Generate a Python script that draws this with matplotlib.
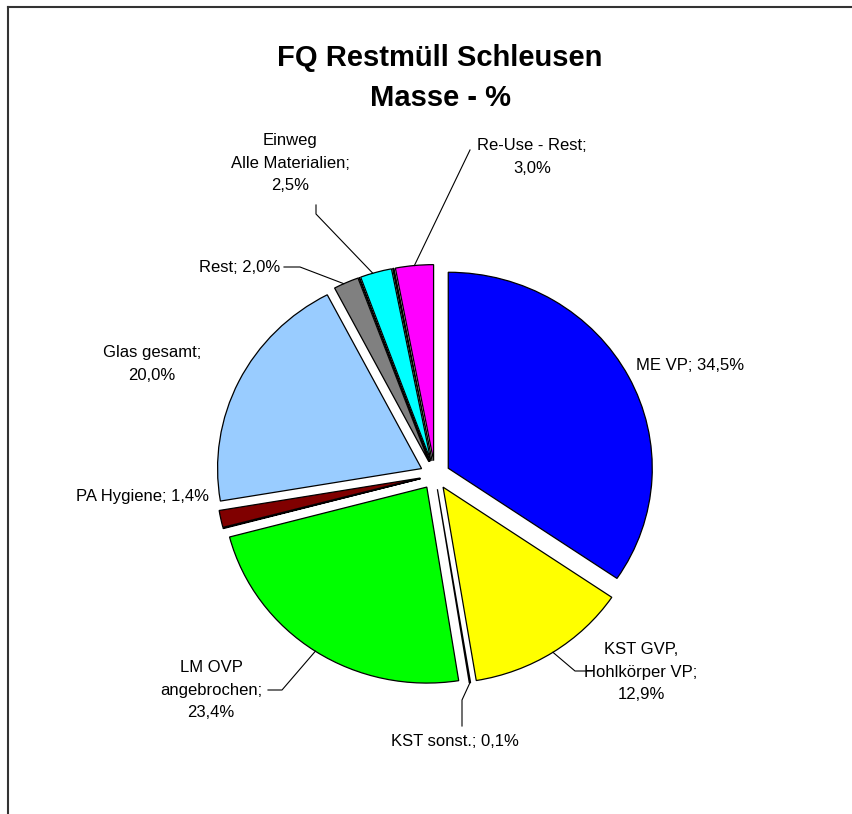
import numpy as np
import matplotlib
matplotlib.use("Agg")
import matplotlib.pyplot as plt
from matplotlib.lines import Line2D

plt.rcParams['font.family'] = ['Liberation Sans', 'DejaVu Sans']

# ---- data (clockwise from 12 o'clock) ----
categories = ["ME VP", "KST GVP,\nHohlkörper VP", "KST sonst.", "LM OVP\nangebrochen",
              "", "PA Hygiene", "Glas gesamt", "Rest", "", "Einweg\nAlle Materialien", "", "Re-Use - Rest"]
values = [34.5, 12.9, 0.1, 23.4, 0.05, 1.4, 20.0, 2.0, 0.05, 2.5, 0.1, 3.0]
colors = ["#0000FF", "#FFFF00", "#FFFFFF", "#00FF00", "#FFFFFF", "#800000", "#99CCFF",
          "#808080", "#FFFFFF", "#00FFFF", "#000000", "#FF00FF"]
label_texts = ["ME VP; 34,5%", "KST GVP,\nHohlkörper VP;\n12,9%", "KST sonst.; 0,1%",
               "LM OVP\nangebrochen;\n23,4%", "", "PA Hygiene; 1,4%", "Glas gesamt;\n20,0%",
               "Rest; 2,0%", "", "Einweg\nAlle Materialien;\n2,5%", "", "Re-Use - Rest;\n3,0%"]

W, H = 852, 814
K = 204 / 196.0  # vertical squash of the pie
fig = plt.figure(figsize=(W / 100, H / 100), dpi=100)
ax = fig.add_axes([0, 0, 1, 1])

def Y(y_img):
    return (H - y_img) * K

cx, cy = 435, Y(475)
R = 204
explode = 15

wedges, _ = ax.pie(values, colors=colors, startangle=90, counterclock=False,
                   radius=R, center=(cx, cy), explode=[explode] * len(values),
                   wedgeprops=dict(edgecolor="black", linewidth=0.9))
ax.set_xlim(0, W)
ax.set_ylim(0, H * K)
ax.set_aspect('auto')
ax.axis('off')

total = sum(values)
cum = np.cumsum([0] + values)
def edge_point(i, frac=0.5):
    ang = np.deg2rad(90 - 360 * (cum[i] + frac * values[i]) / total)
    mid = np.deg2rad(90 - 360 * (cum[i] + 0.5 * values[i]) / total)
    x = cx + explode * np.cos(mid) + R * np.cos(ang)
    y = cy + explode * np.sin(mid) + R * np.sin(ang)
    return x, y

fs = 12
def label(i, x_img, y_img, ha="center"):
    ax.text(x_img, Y(y_img), label_texts[i], ha=ha, va="center", fontsize=fs,
            linespacing=1.62, color="black")

def leader(i, pts_img, frac=0.5):
    ex, ey = edge_point(i, frac)
    xs = [ex] + [p[0] for p in pts_img]
    ys = [ey] + [Y(p[1]) for p in pts_img]
    ax.plot(xs, ys, color="black", lw=0.8)

# labels
label(0, 690, 366)
label(1, 641, 672)
leader(1, [(575, 671), (592, 671)], frac=0.5)
label(2, 455, 741)
leader(2, [(462, 700), (462, 726)])
label(3, 211, 690)
leader(3, [(282, 690), (268, 690)], frac=0.5)
label(5, 209, 496, ha="right")
label(6, 152, 364)
label(7, 280, 267, ha="right")
leader(7, [(300, 267), (284, 267)], frac=0.4)
label(9, 290, 163)
leader(9, [(316, 214), (316, 205)], frac=0.4)
label(11, 532, 157)
leader(11, [(470, 150)], frac=0.5)

# title
fig.text(440 / W, 1 - 58 / H, "FQ Restmüll Schleusen", ha="center", va="center",
         fontsize=21, fontweight="bold")
fig.text(440 / W, 1 - 98 / H, "Masse - %", ha="center", va="center",
         fontsize=21, fontweight="bold")

# partial outer frame
fig.add_artist(Line2D([8 / W, 1], [1 - 7 / H, 1 - 7 / H], color="#333333", lw=1.5))
fig.add_artist(Line2D([8 / W, 8 / W], [0, 1 - 7 / H], color="#333333", lw=1.5))

fig.savefig("out.png", dpi=100)
